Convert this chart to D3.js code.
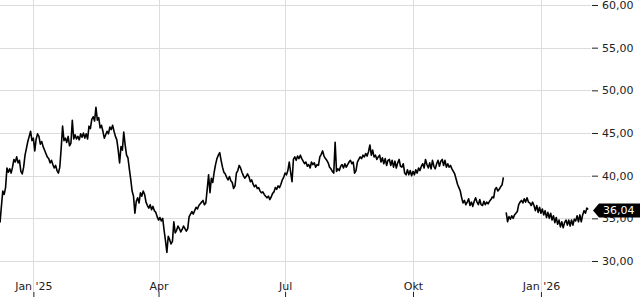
<!DOCTYPE html>
<meta charset="utf-8">
<head>
<script src="https://d3js.org/d3.v7.min.js"></script>
<style>
body { margin: 0; background: #fff; }
svg { display: block; font-family: "DejaVu Sans", sans-serif; }
</style>
</head>
<body>
<script>
// daily values, starting at startDate, one per calendar day (null = gap in data)
const startDate = "2024-12-08";
const endDate = "2026-02-06";
const prices = [
  34.5, 36.4, 38.2, 37.8, 38.6, 40.9, 40.4,
  40.8, 40.3, 41.0, 41.9, 41.6, 42.2, 41.5,
  41.8, 40.5, 40.2, 41.0, 42.4, 43.2, 44.0,
  44.6, 45.2, 44.1, 44.4, 42.9, 44.3, 44.9,
  44.6, 43.7, 44.0, 43.4, 43.0, 42.6, 42.2,
  42.0, 41.5, 41.8, 41.3, 40.9, 41.2, 40.6,
  40.3, 41.0, 43.2, 45.8, 44.1, 44.4, 43.9,
  44.6, 43.5, 43.8, 46.5, 44.3, 44.8, 44.3,
  44.6, 44.2, 44.9, 44.5, 45.0, 44.4, 44.9,
  44.3, 45.8, 45.5, 46.6, 46.9, 46.4, 48.0,
  46.5, 46.8, 45.6, 45.9, 45.2, 44.4, 44.8,
  45.2, 44.9, 45.7, 45.4, 45.9, 45.2, 44.6,
  44.2, 43.0, 41.5, 43.4, 43.0, 45.1, 43.6,
  42.4, 42.1, 40.8, 39.6, 38.2, 37.6, 35.6,
  37.0, 37.4, 36.8, 38.0, 37.6, 38.2, 37.8,
  36.9, 36.5, 36.2, 36.6, 36.0, 36.4, 35.9,
  35.7, 35.2, 34.8, 35.1, 34.7, 35.0, 33.6,
  32.4, 31.0, 32.9, 32.5, 32.0, 32.3, 34.6,
  33.3, 33.6, 34.1, 33.8, 33.4, 33.7, 34.1,
  33.8, 33.5, 33.8, 35.2, 35.5, 35.8, 35.5,
  35.9, 36.3, 36.1, 36.5, 36.7, 36.9, 37.1,
  36.6, 36.8, 38.4, 40.1, 38.0, 39.7, 39.2,
  40.4, 41.3, 42.0, 42.4, 42.7, 41.8, 41.0,
  40.4, 40.2, 39.8, 39.5, 39.9, 39.4, 39.2,
  38.5, 38.8, 40.3, 40.6, 41.2, 40.9, 40.4,
  40.0, 39.7, 39.9, 40.2, 39.9, 39.3, 39.5,
  39.0, 38.7, 38.9, 38.5, 38.6, 38.2, 38.0,
  38.1, 37.8, 37.6, 37.4, 37.6, 37.2, 37.5,
  37.9, 38.1, 38.6, 38.4, 38.8, 38.6, 39.0,
  39.5, 39.8, 40.3, 40.1, 40.6, 41.6, 40.4,
  39.3, 41.9, 42.2, 41.8, 42.3, 42.0, 42.4,
  42.0, 41.7, 41.4, 41.6, 41.1, 41.3, 40.9,
  41.6, 41.3, 41.5, 41.0, 41.3, 41.2, 42.2,
  42.5, 42.9, 42.3, 42.0, 41.8, 41.5, 41.0,
  40.8, 40.5, 40.3, 43.9, 40.5, 40.8, 40.6,
  41.1, 41.3, 40.9, 41.4, 41.0, 41.3, 41.6,
  41.8, 41.4, 41.6, 40.3, 40.6, 41.6, 41.9,
  42.2, 42.0, 42.4, 42.2, 42.6, 42.3, 42.8,
  43.6, 42.4, 43.0, 42.2, 42.4, 41.9, 42.2,
  42.4, 41.6, 42.1, 41.4, 42.0, 41.2, 41.8,
  41.9, 41.2, 41.8, 41.0, 41.7, 40.9, 41.5,
  41.9, 41.1, 41.0, 41.4, 40.3, 40.1, 40.7,
  40.1, 40.6, 40.0, 40.5, 40.1, 40.7, 40.3,
  40.9, 40.6, 41.1, 41.4, 40.9, 41.9, 41.3,
  40.9, 41.5, 40.8, 41.8, 41.1, 40.8, 41.4,
  41.8, 41.1, 41.7, 41.9, 41.2, 41.8, 41.0,
  41.4, 41.0, 41.2, 40.8, 40.5, 40.2, 39.6,
  39.0, 38.6, 38.2, 37.4, 36.8, 37.1, 36.6,
  36.9, 37.3, 36.5, 36.9, 36.4, 37.0, 37.4,
  36.9, 36.6, 37.2, 36.6, 36.5, 37.0, 36.6,
  36.9, 36.7, 37.0, 37.2, 37.5, 37.4, 38.4,
  38.6, 38.2, 38.4, 38.7, 38.9, 39.8,
  null,
  35.7, 34.6, 35.2, 34.9, 35.3, 35.0,
  35.4, 35.6, 35.8, 36.6, 36.9, 37.1, 36.8,
  37.3, 36.9, 37.4, 36.9, 36.8, 36.5, 36.9,
  36.5, 35.9, 36.5, 35.7, 36.3, 35.6, 36.1,
  35.4, 35.9, 35.1, 35.7, 35.0, 35.6, 34.8,
  35.3, 34.5, 35.1, 34.3, 34.8, 34.0, 34.6,
  33.9, 34.5, 34.8, 34.2, 34.8, 34.1, 34.8,
  34.2, 34.9, 34.7, 35.3, 34.6, 35.4, 34.6,
  35.4, 35.9, 35.6, 36.2, 36.04
];
const xTickDates = ["2025-01-01", "2025-04-01", "2025-07-01", "2025-10-01", "2026-01-01"];
const xTickLabels = ["Jan '25", "Apr", "Jul", "Okt", "Jan '26"];
const yTicks = [30, 35, 40, 45, 50, 55, 60];

const width = 640, height = 300;
const plotRight = 592, plotTop = 5, plotBottom = 261, gridBottom = 292;

const parse = d3.timeParse("%Y-%m-%d");
const t0 = parse(startDate);
const data = prices.map((v, i) => ({ date: d3.timeDay.offset(t0, i), v: v }));

const x = d3.scaleTime()
  .domain([t0, parse(endDate)])
  .range([0, plotRight - 1]);

const y = d3.scaleLinear()
  .domain([30, 60])
  .range([plotBottom, plotTop]);

const fmt = v => d3.format(".2f")(v).replace(".", ",");

const svg = d3.select("body").append("svg")
  .attr("width", width)
  .attr("height", height)
  .attr("viewBox", [0, 0, width, height]);

// grid
svg.append("g")
    .attr("stroke", "#dcdcdc")
    .attr("stroke-width", 1)
  .call(g => g.selectAll("line.h")
    .data(yTicks)
    .join("line")
      .attr("class", "h")
      .attr("x1", 0)
      .attr("x2", plotRight - 1)
      .attr("y1", d => Math.round(y(d)) + 0.5)
      .attr("y2", d => Math.round(y(d)) + 0.5))
  .call(g => g.selectAll("line.v")
    .data(xTickDates.map(parse))
    .join("line")
      .attr("class", "v")
      .attr("x1", d => Math.round(x(d)) + 0.5)
      .attr("x2", d => Math.round(x(d)) + 0.5)
      .attr("y1", 0)
      .attr("y2", gridBottom));

// x axis: ticks below, labels sitting on the grid lines
svg.append("g")
    .attr("transform", `translate(0,${gridBottom})`)
    .call(d3.axisBottom(x)
      .tickValues(xTickDates.map(parse))
      .tickSize(5)
      .tickFormat((d, i) => xTickLabels[i]))
    .call(g => g.select(".domain").remove())
    .call(g => g.selectAll(".tick line").attr("stroke", "#222"))
    .call(g => g.selectAll("text")
      .attr("y", -10)
      .attr("font-family", "DejaVu Sans, sans-serif")
      .attr("font-size", 11)
      .attr("fill", "#222"));

// y axis on the right
svg.append("g")
    .attr("transform", `translate(${plotRight},0)`)
    .call(d3.axisRight(y)
      .tickValues(yTicks)
      .tickSize(6)
      .tickPadding(4)
      .tickFormat(fmt))
    .call(g => g.select(".domain").remove())
    .call(g => g.selectAll(".tick line").attr("stroke", "#222"))
    .call(g => g.selectAll("text")
      .attr("font-family", "DejaVu Sans, sans-serif")
      .attr("font-size", 11)
      .attr("fill", "#222"));

// price line
const line = d3.line()
  .defined(d => d.v != null)
  .x(d => x(d.date))
  .y(d => y(d.v));

svg.append("path")
  .datum(data)
  .attr("fill", "none")
  .attr("stroke", "#000")
  .attr("stroke-width", 1.6)
  .attr("stroke-linejoin", "round")
  .attr("d", line);

// last value marker (drawn over the 35,00 label, as in the original)
const last = data[data.length - 1];
const ly = y(last.v) + 1;
svg.append("path")
  .attr("fill", "#000")
  .attr("d", `M${plotRight + 1},${ly} L${plotRight + 7},${ly - 7} L${width},${ly - 7} L${width},${ly + 7} L${plotRight + 7},${ly + 7} Z`);

svg.append("text")
  .attr("x", plotRight + 11)
  .attr("y", ly)
  .attr("dy", "0.35em")
  .attr("font-size", 11)
  .attr("fill", "#fff")
  .text(fmt(last.v));
</script>
</body>
